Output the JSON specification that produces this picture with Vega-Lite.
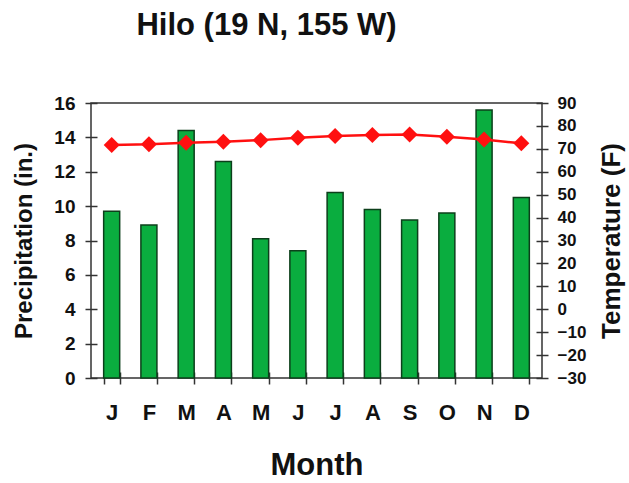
{
  "$schema": "https://vega.github.io/schema/vega-lite/v6.json",
  "width": 451,
  "height": 275,
  "autosize": {"type": "none"},
  "padding": {"left": 91, "top": 103, "right": 87, "bottom": 105},
  "background": "white",
  "title": {"text": "Hilo (19 N, 155 W)", "fontSize": 31, "font": "Liberation Sans", "fontWeight": "bold", "color": "#111111", "offset": 52, "dx": -50, "anchor": "middle"},
  "config": {
    "view": {"stroke": "#333333", "strokeWidth": 1.5},
    "axis": {"labelFont": "Liberation Sans", "titleFont": "Liberation Sans", "labelFontWeight": "bold", "titleFontWeight": "bold", "labelColor": "#111111", "titleColor": "#111111", "tickColor": "#333333", "tickWidth": 1.5, "domain": false, "grid": false, "offset": -6, "tickSize": 12}
  },
  "data": {
    "values": [
      {"month": "J1", "precip": 9.7, "temp": 71.7},
      {"month": "F", "precip": 8.9, "temp": 72.0},
      {"month": "M1", "precip": 14.4, "temp": 72.7},
      {"month": "A1", "precip": 12.6, "temp": 73.1},
      {"month": "M2", "precip": 8.1, "temp": 73.8},
      {"month": "J2", "precip": 7.4, "temp": 74.8},
      {"month": "J3", "precip": 10.8, "temp": 75.6},
      {"month": "A2", "precip": 9.8, "temp": 76.0},
      {"month": "S", "precip": 9.2, "temp": 76.3},
      {"month": "O", "precip": 9.6, "temp": 75.3},
      {"month": "N", "precip": 15.6, "temp": 74.1},
      {"month": "D", "precip": 10.5, "temp": 72.4}
    ]
  },
  "encoding": {
    "x": {
      "field": "month", "type": "nominal",
      "sort": ["J1", "F", "M1", "A1", "M2", "J2", "J3", "A2", "S", "O", "N", "D"],
      "scale": {"paddingInner": 0.57, "paddingOuter": 0.34},
      "axis": {"title": "Month", "titleFontSize": 31, "labelFontSize": 22, "labelAngle": 0, "labelPadding": 18, "titlePadding": 27, "tickBand": "extent",
        "labelExpr": "isString(datum.value) ? substring(datum.value, 0, 1) : ''"}
    }
  },
  "layer": [
    {
      "mark": {"type": "bar", "fill": "#0aad3f", "stroke": "#0c3f1b", "strokeWidth": 1.5},
      "encoding": {
        "y": {"field": "precip", "type": "quantitative", "scale": {"domain": [0, 16]},
          "axis": {"orient": "left", "title": "Precipitation (in.)", "titleFontSize": 24, "labelFontSize": 19, "values": [0, 2, 4, 6, 8, 10, 12, 14, 16], "labelPadding": 10, "titlePadding": 17}}
      }
    },
    {
      "mark": {"type": "line", "color": "#ff1010", "strokeWidth": 2.5, "point": {"shape": "diamond", "size": 256, "filled": true, "color": "#ff1010"}},
      "encoding": {
        "y": {"field": "temp", "type": "quantitative", "scale": {"domain": [-30, 90]},
          "axis": {"orient": "right", "title": "Temperature (F)", "titleFontSize": 26, "labelFontSize": 17, "values": [-30, -20, -10, 0, 10, 20, 30, 40, 50, 60, 70, 80, 90], "labelPadding": 9, "titlePadding": 13, "titleAngle": -90, "titleBaseline": "top"}}
      }
    }
  ],
  "resolve": {"scale": {"y": "independent"}}
}
